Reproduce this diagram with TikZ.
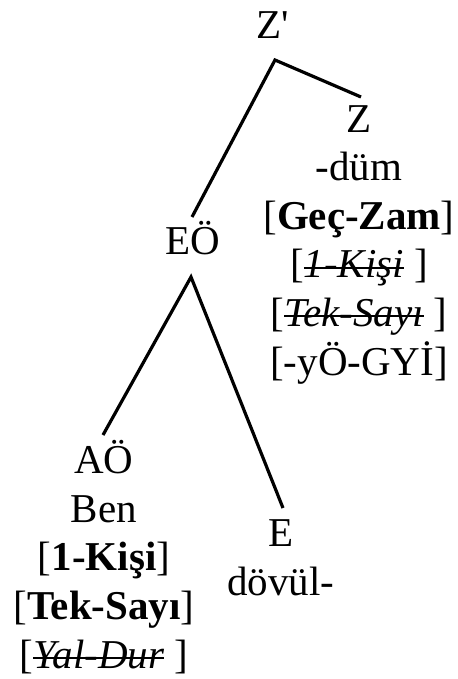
\documentclass[tikz,border=0pt]{standalone}
\usepackage{fontspec}
\setmainfont[Ligatures=TeXOff]{Liberation Serif}
\usepackage{tikz}
\usetikzlibrary{positioning}

\tikzset{
  lbl/.style={font=\fontsize{20.5}{24.3}\selectfont, inner sep=0pt, anchor=base, align=center},
  branch/.style={line width=1.6pt}
}
\newsavebox{\gonebox}
\newcommand{\gone}[1]{\sbox{\gonebox}{\textit{#1}}%
  \makebox[0pt][l]{\rule[0.22em]{\wd\gonebox}{0.05em}}\usebox{\gonebox}}

\begin{document}
\begin{tikzpicture}[x=0.5pt,y=-0.5pt]
    \useasboundingbox (0,0) rectangle (457,679);

    % labels (base = last line)
    \node[lbl] (zbar) at (273,39) {Z'};
    \node[lbl] (z) at (359,375) {Z\\ -düm\\ {[}\textbf{Geç-Zam}{]}\\ {[}\gone{1-Kişi}\ {]}\\ {[}\gone{Tek-Sayı}\ {]}\\ {[}-yÖ-GYİ{]}};
    \node[lbl] (eo) at (193,255) {EÖ};
    \node[lbl] (ao) at (104,668) {AÖ\\ Ben\\ {[}\textbf{1-Kişi}{]}\\ {[}\textbf{Tek-Sayı}{]}\\ {[}\gone{Yal-Dur}\ {]}};
    \node[lbl] (e) at (281,595) {E\\ dövül-};

    % branch ends
    \coordinate (zbar-b) at (275,60);
    \coordinate (z-t) at (361,97);
    \coordinate (eo-t) at (192,217);
    \coordinate (eo-b) at (191,277);
    \coordinate (ao-t) at (103,435);
    \coordinate (e-t) at (283,508);

    \draw[branch] (eo-t) -- (zbar-b) -- (z-t);
    \draw[branch] (ao-t) -- (eo-b) -- (e-t);
\end{tikzpicture}
\end{document}
